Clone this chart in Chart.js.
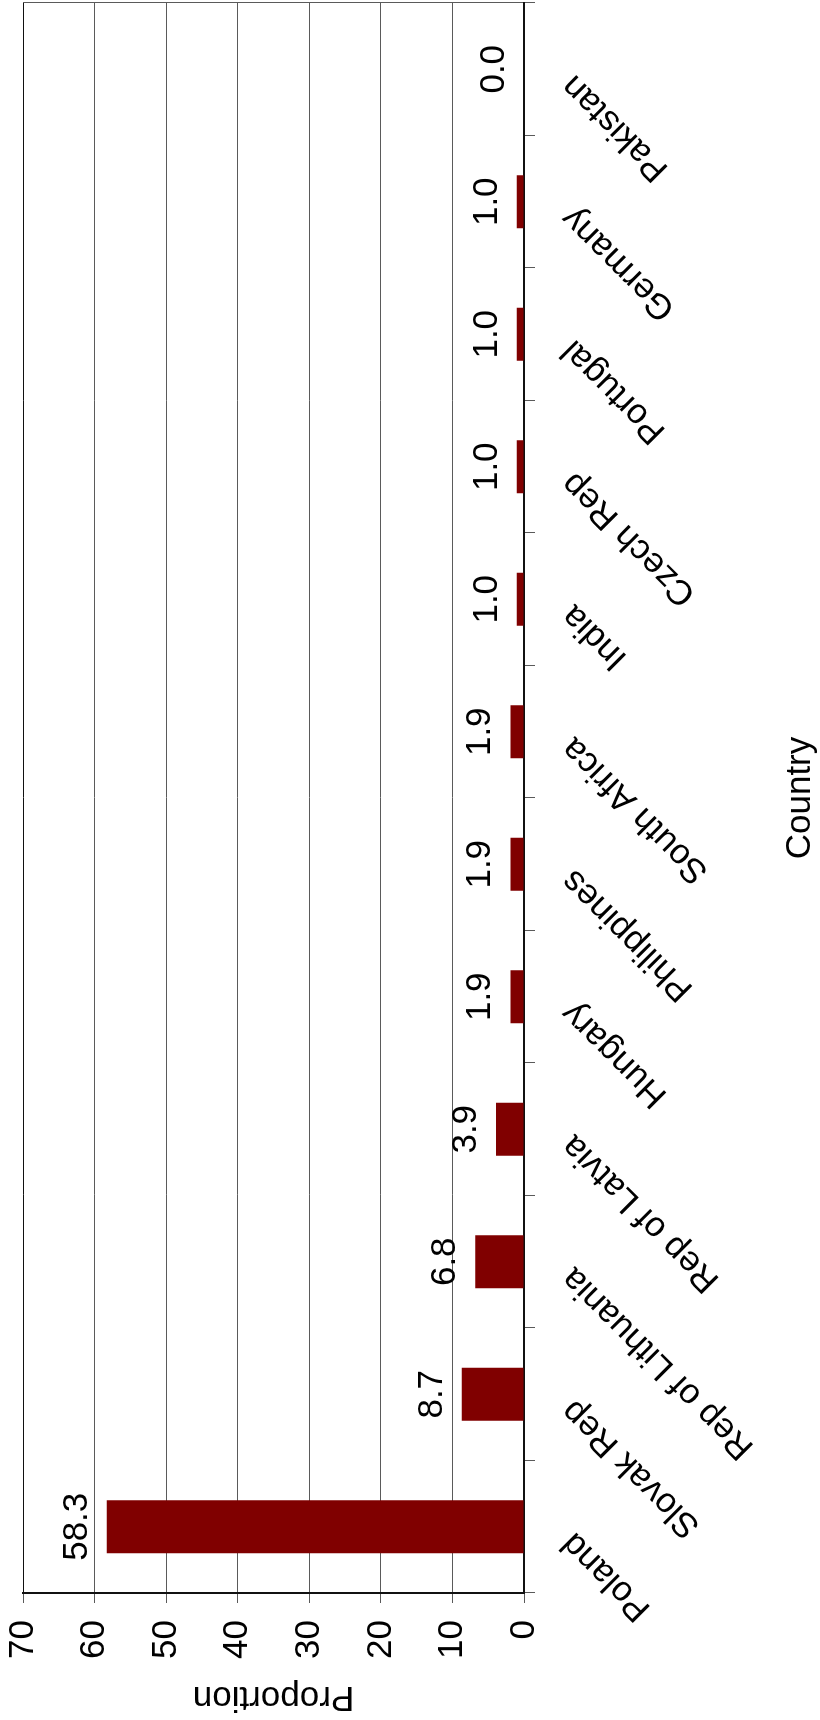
<!DOCTYPE html>
<html>
<head>
<meta charset="utf-8">
<script src="https://cdn.jsdelivr.net/npm/chart.js@4"></script>
<style>
  html, body { margin: 0; padding: 0; background: #fff; }
  body { width: 820px; height: 1720px; overflow: hidden; position: relative; }
  /* The chart is laid out landscape and turned a quarter turn counter-clockwise */
  #frame {
    position: absolute; left: 0; top: 0;
    width: 1720px; height: 820px;
    transform-origin: 0 0;
    transform: translateY(1720px) rotate(-90deg);
  }
  canvas { display: block; }
</style>
</head>
<body>
<div id="frame"><canvas id="chart" width="1720" height="820"></canvas></div>
<script>
// Share of respondents by country of origin
const categories = ['Poland', 'Slovak Rep', 'Rep of Lithuania', 'Rep of Latvia', 'Hungary',
  'Philippines', 'South Africa', 'India', 'Czech Rep', 'Portugal', 'Germany', 'Pakistan'];
const proportions = [58.3, 8.7, 6.8, 3.9, 1.9, 1.9, 1.9, 1.0, 1.0, 1.0, 1.0, 0.0];
const valueAxisMin = 0;
const valueAxisMax = 70;
const valueAxisStep = 10;
const valueAxisTitle = 'Proportion';
const categoryAxisTitle = 'Country';

const FONT = "'Liberation Sans', Arial, sans-serif";
const GRID_GREY = '#5a5a5a';

// Writes each bar's value just above its end
const barValueLabels = {
  id: 'barValueLabels',
  afterDatasetsDraw(chart) {
    const ctx = chart.ctx;
    const meta = chart.getDatasetMeta(0);
    ctx.save();
    ctx.font = '35px ' + FONT;
    ctx.fillStyle = '#000';
    ctx.textAlign = 'center';
    ctx.textBaseline = 'alphabetic';
    meta.data.forEach((bar, i) => {
      ctx.fillText(proportions[i].toFixed(1), bar.x, bar.y - 20);
    });
    ctx.restore();
  }
};

new Chart(document.getElementById('chart'), {
  type: 'bar',
  data: {
    labels: categories,
    datasets: [{
      data: proportions,
      backgroundColor: '#800000',
      borderWidth: 0,
      barPercentage: 0.4,
      categoryPercentage: 1.0
    }]
  },
  options: {
    responsive: false,
    animation: false,
    devicePixelRatio: 1,
    layout: { padding: { top: 23, right: 3, bottom: 0, left: 0 } },
    plugins: {
      legend: { display: false },
      tooltip: { enabled: false }
    },
    scales: {
      x: {
        offset: true,
        grid: {
          offset: true,
          drawOnChartArea: true,
          // only the closing boundary is carried through the plot as a frame line
          color: (c) => (c.type === 'scale' ? GRID_GREY : 'rgba(0,0,0,0)'),
          tickColor: GRID_GREY,
          tickLength: 11,
          lineWidth: 1
        },
        border: { display: true, color: '#111', width: 2 },
        ticks: {
          autoSkip: false,
          minRotation: 45,
          maxRotation: 45,
          padding: 18,
          labelOffset: -11,
          color: '#000',
          font: { family: FONT, size: 35 }
        },
        title: {
          display: true,
          text: categoryAxisTitle,
          color: '#000',
          font: { family: FONT, size: 35, lineHeight: 1.1 },
          padding: { top: 0, bottom: 0 }
        },
        afterFit: (s) => { s.height = 296; }
      },
      y: {
        min: valueAxisMin,
        max: valueAxisMax,
        grid: {
          color: (c) => (c.tick && c.tick.value === valueAxisMax ? '#111' : GRID_GREY),
          tickColor: GRID_GREY,
          tickLength: 10,
          lineWidth: 1
        },
        border: { display: true, color: '#111', width: 2 },
        ticks: {
          stepSize: valueAxisStep,
          padding: 17,
          color: '#000',
          font: { family: FONT, size: 35 }
        },
        title: {
          display: true,
          text: valueAxisTitle,
          color: '#000',
          font: { family: FONT, size: 35, lineHeight: 1.1 },
          padding: { top: 4, bottom: 0 }
        },
        afterFit: (s) => {
          s.width = 127;
          // the outer layout padding already leaves room for the end labels
          s.paddingTop = 0;
          s.paddingBottom = 0;
        }
      }
    }
  },
  plugins: [barValueLabels]
});
</script>
</body>
</html>
